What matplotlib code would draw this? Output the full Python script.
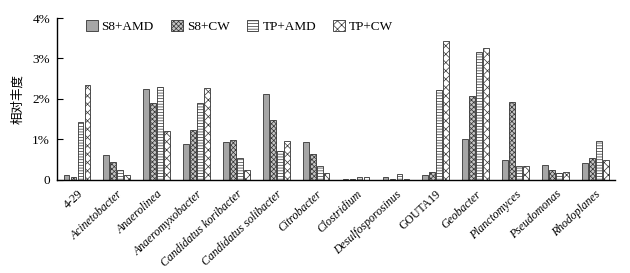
import numpy as np
import matplotlib.pyplot as plt
import matplotlib as mpl

mpl.rcParams['hatch.linewidth'] = 0.5

genera = ["4-29", "Acinetobacter", "Anaerolinea", "Anaeromyxobacter",
          "Candidatus koribacter", "Candidatus solibacter", "Citrobacter",
          "Clostridium", "Desulfosporosinus", "GOUTA19", "Geobacter",
          "Planctomyces", "Pseudomonas", "Rhodoplanes"]
italic = [False, True, True, True, True, True, True, True, True, False,
          True, True, True, True]

s8_amd = [0.12, 0.61, 2.25, 0.88, 0.93, 2.12, 0.93, 0.02, 0.07, 0.12, 1.01, 0.48, 0.37, 0.43]
s8_cw = [0.07, 0.44, 1.89, 1.23, 0.98, 1.48, 0.63, 0.03, 0.02, 0.19, 2.08, 1.93, 0.25, 0.54]
tp_amd = [1.42, 0.24, 2.30, 1.89, 0.54, 0.72, 0.35, 0.07, 0.15, 2.22, 3.15, 0.35, 0.16, 0.95]
tp_cw = [2.35, 0.12, 1.20, 2.26, 0.24, 0.95, 0.16, 0.07, 0.02, 3.43, 3.27, 0.35, 0.20, 0.50]

series = [("S8+AMD", s8_amd, "#a6a6a6", ""),
          ("S8+CW", s8_cw, "#c4c4c4", "xxxxxxx"),
          ("TP+AMD", tp_amd, "white", "------"),
          ("TP+CW", tp_cw, "white", "xxxx")]

fig = plt.figure(figsize=(6.3, 2.73), dpi=100)
ax = fig.add_axes([0.0905, 0.341, 0.886, 0.593])

x = np.arange(len(genera))
w = 0.175
for i, (name, vals, fc, hatch) in enumerate(series):
    ax.bar(x + (i - 1.5) * w, vals, width=w * 0.82, color=fc, edgecolor="#333333",
           linewidth=0.6, hatch=hatch, label=name)

ax.set_xlim(-0.5, len(genera) - 0.5)
ax.set_ylim(0, 4)
ax.set_yticks([0, 1, 2, 3, 4])
ax.set_yticklabels(["0", "1%", "2%", "3%", "4%"], family="Liberation Serif", fontsize=9.5)
ax.tick_params(axis="y", direction="in", length=4, width=0.8, pad=5)
ax.set_xticks(x)
ax.set_xticklabels(genera, rotation=43, ha="right", rotation_mode="anchor",
                   family="Liberation Serif", fontsize=8.5)
for lab, it in zip(ax.get_xticklabels(), italic):
    lab.set_style("italic" if it else "normal")
ax.tick_params(axis="x", length=0, pad=6)
for s in ["top", "right"]:
    ax.spines[s].set_visible(False)
ax.spines["left"].set_linewidth(1.0)
ax.spines["bottom"].set_linewidth(1.0)

ax.set_ylabel("相对丰度", family=["Noto Sans CJK SC", "DejaVu Sans"], fontsize=9, labelpad=6)

ax.legend(loc="upper left", bbox_to_anchor=(0.03, 1.06), ncol=4, frameon=False,
          prop={"family": "Liberation Serif", "size": 9.5}, handlelength=0.9,
          handleheight=0.9, handletextpad=0.3, columnspacing=1.3)

fig.savefig("out.png", dpi=100)
